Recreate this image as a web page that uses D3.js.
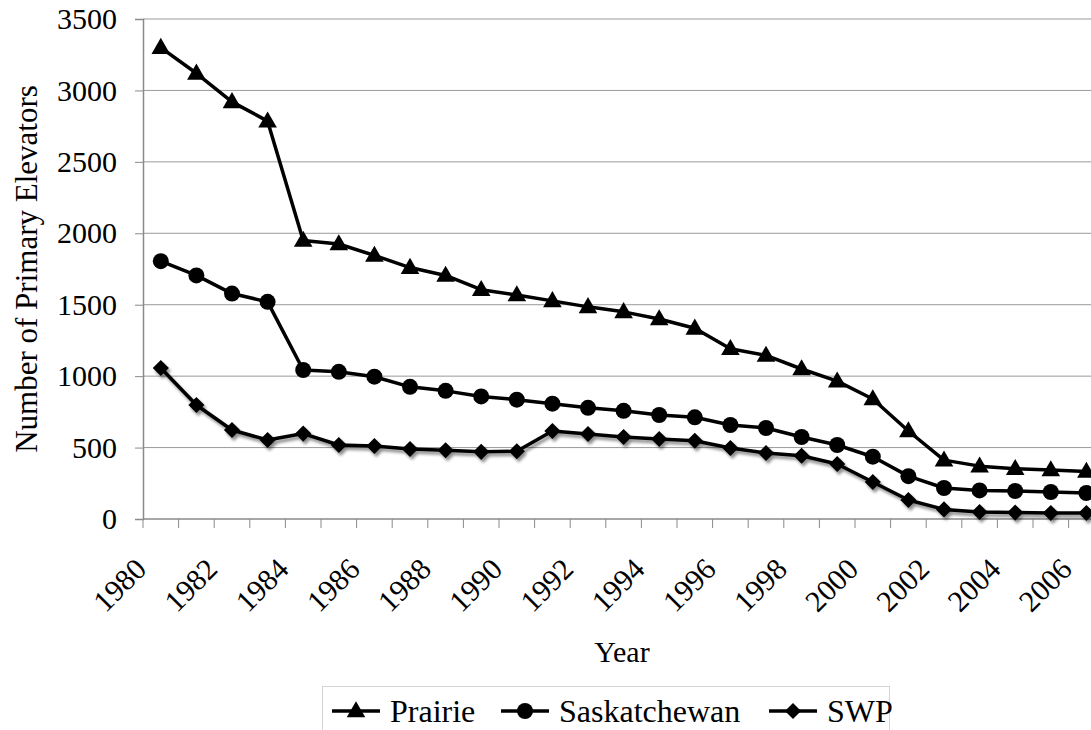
<!DOCTYPE html>
<html>
<head>
<meta charset="utf-8">
<script src="https://cdn.jsdelivr.net/npm/d3@7"></script>
</head>
<body style="margin:0;background:#fff;font-family:'Liberation Serif',serif">
<div id="wrap" style="font-family:'Liberation Serif',serif">
<svg id="chart" width="1091" height="730"></svg>
</div>
<script>
// request the serif face up front so it is ready when the chart text is laid out
if (document.fonts && document.fonts.load) {
  document.fonts.load("30px 'Liberation Serif'");
  document.fonts.load("32px 'Liberation Serif'");
}

// Primary grain elevators, 1980–2006
const years = d3.range(1980, 2007);
const prairie = [3300, 3120, 2920, 2785, 1950, 1925, 1845, 1760, 1705, 1605, 1568, 1527, 1485, 1450, 1400, 1335,
  1192, 1145, 1050, 965, 840, 616, 412, 370, 352, 343, 333];
const saskatchewan = [1805, 1705, 1578, 1520, 1043, 1030, 996, 925, 897, 858, 835, 807, 778, 757, 728, 712,
  658, 637, 574, 518, 436, 300, 217, 200, 196, 189, 182];
const swp = [1057, 798, 623, 553, 598, 518, 511, 490, 481, 470, 474, 616, 595, 574, 560, 548,
  497, 462, 443, 385, 259, 133, 67, 49, 45, 42, 42];
const yTicks = [0, 500, 1000, 1500, 2000, 2500, 3000, 3500];
const seriesNames = ["Prairie", "Saskatchewan", "SWP"];

const FONT = "Liberation Serif";
const svg = d3.select("#chart").attr("font-family", FONT);
const plotLeft = 143, plotTop = 19, plotBottom = 519;
const band = 35.6;
const plotRight = plotLeft + band * years.length;

const x = d3.scaleBand().domain(years).range([plotLeft, plotRight]).paddingInner(0).paddingOuter(0);
const y = d3.scaleLinear().domain([0, 3500]).range([plotBottom, plotTop]);

// drop shadow for the SWP line
const defs = svg.append("defs");
const f = defs.append("filter").attr("id", "shadow").attr("x", "-5%").attr("y", "-5%").attr("width", "110%").attr("height", "120%");
f.append("feGaussianBlur").attr("in", "SourceAlpha").attr("stdDeviation", 1.5).attr("result", "b");
f.append("feOffset").attr("in", "b").attr("dx", 2).attr("dy", 3).attr("result", "o");
f.append("feComponentTransfer").attr("in", "o").attr("result", "s")
  .append("feFuncA").attr("type", "linear").attr("slope", 0.45);
const m = f.append("feMerge");
m.append("feMergeNode").attr("in", "s");
m.append("feMergeNode").attr("in", "SourceGraphic");

// horizontal gridlines
svg.append("g")
  .selectAll("line").data(yTicks.filter(d => d > 0)).join("line")
  .attr("x1", plotLeft).attr("x2", 1091)
  .attr("y1", d => y(d)).attr("y2", d => y(d))
  .attr("stroke", "#9a9a9a").attr("stroke-width", 1);

// y axis
const yAxis = svg.append("g").attr("transform", `translate(${plotLeft},0)`)
  .call(d3.axisLeft(y).tickValues(yTicks).tickSize(8).tickPadding(18).tickFormat(d3.format("d")))
  .attr("font-family", FONT).attr("font-size", 30);
yAxis.select(".domain").attr("stroke", "#8a8a8a").attr("stroke-width", 1.5);
yAxis.selectAll(".tick line").attr("stroke", "#8a8a8a");
yAxis.selectAll("text").attr("fill", "#000").attr("font-family", FONT);

// x axis: ticks on category boundaries
const bounds = years.map(d => x(d)).concat([plotRight]);
const xg = svg.append("g").attr("font-family", FONT).attr("font-size", 30);
xg.append("line").attr("x1", plotLeft).attr("x2", plotRight).attr("y1", plotBottom).attr("y2", plotBottom)
  .attr("stroke", "#8a8a8a").attr("stroke-width", 1.5);
xg.selectAll("line.tk").data(bounds).join("line").attr("class", "tk")
  .attr("x1", d => d).attr("x2", d => d).attr("y1", plotBottom).attr("y2", plotBottom + 9)
  .attr("stroke", "#8a8a8a").attr("stroke-width", 1);
xg.selectAll("text").data(years.filter((d, i) => i % 2 === 0)).join("text")
  .attr("transform", d => `translate(${x(d) + 5},${plotBottom + 52}) rotate(-45)`)
  .attr("text-anchor", "end")
  .attr("font-family", FONT).attr("font-size", 30)
  .text(d => d);

// axis titles
svg.append("text").attr("x", 622).attr("y", 662).attr("text-anchor", "middle")
  .attr("font-family", FONT).attr("font-size", 30).text("Year");
svg.append("text").attr("transform", `translate(37,${(plotTop + plotBottom) / 2}) rotate(-90)`)
  .attr("text-anchor", "middle").attr("font-family", FONT).attr("font-size", 31)
  .text("Number of Primary Elevators");

// markers
const tri = d3.symbol().type(d3.symbolTriangle).size(150);
const sq = d3.symbol().type(d3.symbolSquare).size(130);
function marker(g, kind) {
  if (kind === 0) g.append("path").attr("d", tri).attr("transform", "translate(0,1)");
  else if (kind === 1) g.append("circle").attr("r", 8);
  else g.append("path").attr("d", sq).attr("transform", "rotate(45)");
}

const allSeries = [prairie, saskatchewan, swp];
const line = d3.line().x((d, i) => x(years[i]) + x.bandwidth() / 2).y(d => y(d));

allSeries.forEach((vals, k) => {
  const g = svg.append("g");
  if (k === 2) g.attr("filter", "url(#shadow)");
  g.append("path").datum(vals).attr("d", line).attr("fill", "none")
    .attr("stroke", "#000").attr("stroke-width", 3.5).attr("stroke-linejoin", "round");
  vals.forEach((v, i) => {
    const mg = g.append("g").attr("transform", `translate(${x(years[i]) + x.bandwidth() / 2},${y(v)})`).attr("fill", "#000");
    marker(mg, k);
  });
});

// legend
const lg = svg.append("g");
lg.append("rect").attr("x", 322.5).attr("y", 686.5).attr("width", 567).attr("height", 60)
  .attr("fill", "#fff").attr("stroke", "#d4d4d4").attr("stroke-width", 1);
const legendX = [332, 501, 769];
seriesNames.forEach((name, k) => {
  const g = lg.append("g").attr("transform", `translate(${legendX[k]},711)`);
  g.append("line").attr("x1", 0).attr("x2", 48).attr("stroke", "#000").attr("stroke-width", 3.5);
  const mg = g.append("g").attr("transform", "translate(24,0)").attr("fill", "#000");
  marker(mg, k);
  g.append("text").attr("x", 58).attr("y", 11)
    .attr("font-family", FONT).attr("font-size", 32).text(name);
});

// force a layout pass now so the text fonts are resolved before the page finishes loading
svg.node().getBBox();
</script>
</body>
</html>
